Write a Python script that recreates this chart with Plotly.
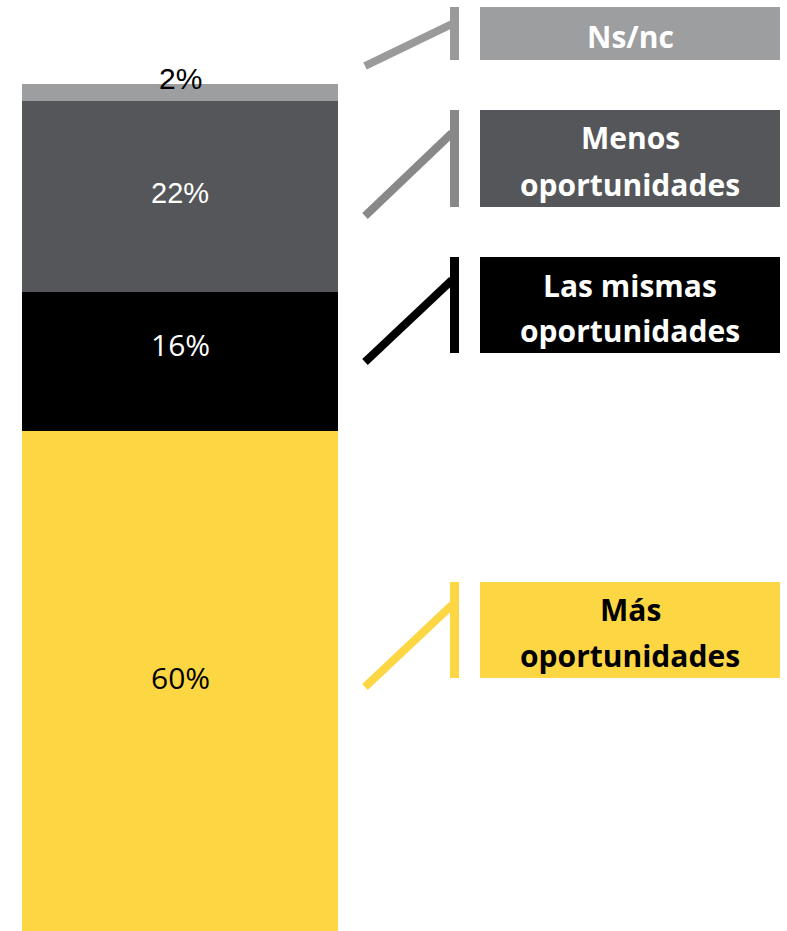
import plotly.graph_objects as go

W, H = 787, 931

# Data (bottom to top)
categories = ["Más oportunidades", "Las mismas oportunidades", "Menos oportunidades", "Ns/nc"]
values = [59.0, 16.5, 22.5, 2.0]
value_labels = ["60%", "16%", "22%", "2%"]
box_lines = [["Más", "oportunidades"], ["Las mismas", "oportunidades"], ["Menos", "oportunidades"], ["Ns/nc"]]

bar_colors = ["#FDD643", "#000000", "#555659", "#9D9EA0"]
conn_colors = ["#FDD643", "#000000", "#888888", "#9A9A9A"]
box_text_colors = ["#000000", "#FFFFFF", "#FFFFFF", "#FFFFFF"]
label_fonts = [
    dict(family="Open Sans", size=30, color="#000000"),
    dict(family="Open Sans", size=30, color="#FFFFFF"),
    dict(family="Liberation Sans, Arial", size=29, color="#FFFFFF"),
    dict(family="Liberation Sans, Arial", size=30, color="#000000"),
]
label_yshift = [4, 17, 3, 6]

# Box positions in pixels (top, bottom)
boxes = [(582, 678), (257, 353), (110, 207), (7, 60)]
line_y = [[609, 655], [285, 330], [137, 185], [37]]

def px(x):
    return x / W

def py(y):
    return 1 - y / H

fig = go.Figure()
for c, v, col in zip(categories, values, bar_colors):
    fig.add_trace(go.Bar(x=[180], y=[v], width=[316], name=c, marker=dict(color=col, line=dict(width=0)),
                         showlegend=False, hoverinfo="skip"))

annotations = []
shapes = []
base = 0
for i, v in enumerate(values):
    mid = base + v / 2 if i < 3 else base + v
    annotations.append(dict(x=180, y=mid, xref="x", yref="y", text=value_labels[i], showarrow=False,
                            font=label_fonts[i], yshift=label_yshift[i]))
    base += v

for i, (top, bot) in enumerate(boxes):
    shapes.append(dict(type="rect", xref="paper", yref="paper", x0=px(480), x1=px(780), y0=py(bot), y1=py(top),
                       fillcolor=bar_colors[i], line=dict(width=0), layer="below"))
    shapes.append(dict(type="line", xref="paper", yref="paper", x0=px(454.5), x1=px(454.5), y0=py(bot), y1=py(top),
                       line=dict(color=conn_colors[i], width=9)))
    up = top + (18 if i == 3 else 24)
    shapes.append(dict(type="line", xref="paper", yref="paper", x0=px(365), y0=py(bot + 9 if i < 3 else bot + 6),
                       x1=px(452), y1=py(up - 1), line=dict(color=conn_colors[i], width=8)))
    for t, ly in zip(box_lines[i], line_y[i]):
        annotations.append(dict(x=px(630), y=py(ly), xref="paper", yref="paper", text="<b>" + t + "</b>",
                                showarrow=False, xanchor="center", yanchor="middle",
                                font=dict(family="Open Sans", size=30, color=box_text_colors[i])))

fig.update_layout(
    width=W, height=H, barmode="stack",
    margin=dict(l=0, r=0, t=0, b=0),
    paper_bgcolor="white", plot_bgcolor="white",
    xaxis=dict(range=[0, W], visible=False, fixedrange=True),
    yaxis=dict(range=[0, 100 * H / 847], visible=False, fixedrange=True),
    annotations=annotations, shapes=shapes,
)
fig.write_html("out.html", config={"displayModeBar": False, "staticPlot": True},
               post_script="document.body.style.margin='0px';document.body.style.overflow='hidden';")
